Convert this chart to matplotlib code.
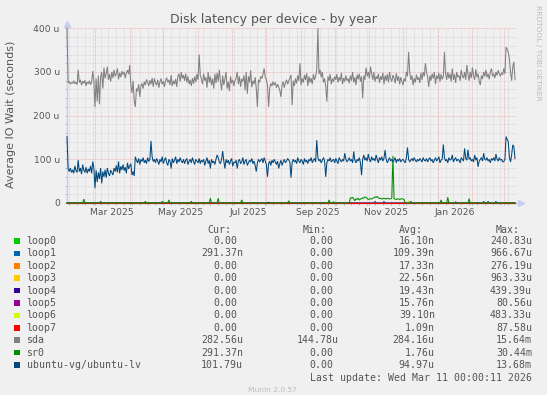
import numpy as np
import matplotlib
matplotlib.use('Agg')
import matplotlib.pyplot as plt
import pandas as pd
from matplotlib.patches import Rectangle

# ---------------- data ----------------
start = pd.Timestamp('2025-02-04')
end_label = 'Last update: Wed Mar 11 00:00:11 2026'

# daily values, microseconds (d = 0 .. 400)
sda = [
    400, 275, 278, 272, 276, 274, 280, 273, 277, 271,
    305, 276, 282, 270, 279, 274, 281, 268, 277, 273,
    280, 271, 276, 302, 280, 220, 285, 232, 292, 226,
    288, 300, 262, 310, 285, 296, 312, 282, 295, 278,
    300, 286, 305, 290, 296, 308, 283, 298, 288, 302,
    294, 300, 286, 298, 304, 295, 316, 270, 252, 280,
    235, 220, 262, 256, 272, 243, 268, 274, 262, 278,
    270, 283, 276, 268, 281, 272, 286, 266, 285, 275,
    270, 282, 264, 278, 285, 272, 279, 266, 280, 287,
    276, 282, 270, 293, 268, 280, 272, 284, 266, 290,
    296, 278, 300, 285, 293, 280, 296, 276, 290, 272,
    282, 268, 286, 273, 290, 277, 295, 282, 340, 292,
    285, 272, 296, 280, 288, 264, 300, 276, 290, 270,
    285, 262, 296, 274, 298, 278, 305, 280, 258, 292,
    270, 284, 300, 262, 278, 256, 290, 274, 282, 268,
    280, 286, 300, 272, 290, 266, 284, 278, 292, 258,
    300, 250, 290, 276, 304, 265, 280, 272, 288, 262,
    220, 282, 276, 290, 285, 295, 308, 288, 282, 270,
    220, 262, 274, 268, 278, 270, 276, 264, 272, 266,
    258, 243, 270, 278, 264, 275, 282, 272, 280, 286,
    293, 224, 280, 268, 285, 274, 292, 280, 320, 270,
    285, 276, 293, 282, 297, 268, 290, 276, 286, 272,
    295, 282, 290, 305, 400, 295, 305, 288, 300, 276,
    285, 268, 232, 290, 280, 295, 272, 285, 278, 290,
    282, 295, 276, 288, 280, 298, 272, 286, 278, 292,
    280, 285, 274, 292, 280, 300, 276, 288, 270, 294,
    283, 296, 278, 290, 240, 292, 282, 310, 290, 300,
    285, 312, 296, 282, 300, 278, 290, 284, 296, 275,
    290, 282, 298, 272, 292, 280, 295, 276, 300, 284,
    278, 293, 286, 274, 297, 280, 290, 272, 288, 279,
    270, 285, 278, 300, 290, 346, 300, 282, 292, 270,
    286, 276, 294, 282, 288, 275, 298, 282, 300, 290,
    320, 300, 288, 266, 292, 280, 296, 285, 300, 272,
    292, 284, 298, 278, 295, 283, 290, 346, 295, 282,
    300, 285, 296, 278, 308, 282, 295, 275, 300, 288,
    292, 280, 305, 290, 286, 300, 282, 316, 295, 280,
    300, 286, 310, 292, 282, 306, 288, 296, 280, 270,
    292, 284, 300, 290, 305, 288, 296, 283, 300, 308,
    290, 296, 286, 300, 292, 304, 296, 290, 298, 294,
    308, 296, 357, 352, 345, 330, 300, 280, 312, 323,
    283,
]

ubuntu_lv = [
    152, 79, 72, 80, 70, 76, 68, 85, 74, 70,
    98, 72, 80, 66, 88, 75, 70, 82, 68, 78,
    72, 85, 68, 95, 80, 34, 75, 48, 70, 55,
    80, 45, 72, 60, 76, 58, 80, 68, 62, 75,
    70, 64, 80, 72, 86, 70, 95, 68, 84, 76,
    88, 74, 82, 68, 92, 78, 85, 90, 64, 72,
    62, 106, 98, 92, 102, 88, 100, 95, 104, 92,
    98, 90, 104, 95, 100, 142, 106, 95, 100, 92,
    102, 96, 88, 100, 94, 106, 90, 98, 104, 92,
    86, 100, 96, 79, 102, 92, 98, 106, 90, 100,
    94, 104, 96, 92, 100, 90, 98, 102, 88, 96,
    100, 92, 104, 95, 88, 100, 96, 92, 102, 90,
    98, 94, 100, 86, 96, 104, 90, 98, 79, 100,
    92, 96, 88, 100, 110, 104, 94, 90, 100, 119,
    96, 79, 100, 92, 98, 88, 96, 102, 84, 94,
    92, 98, 79, 96, 100, 90, 94, 104, 88, 96,
    100, 86, 92, 98, 94, 102, 90, 96, 86, 72,
    92, 100, 94, 98, 102, 92, 104, 96, 88, 60,
    90, 96, 86, 98, 92, 100, 94, 88, 96, 79,
    90, 98, 86, 94, 100, 92, 96, 102, 98, 94,
    58, 92, 100, 94, 98, 90, 104, 96, 92, 100,
    96, 88, 102, 94, 98, 90, 100, 96, 104, 92,
    98, 102, 94, 144, 104, 96, 100, 92, 98, 104,
    96, 60, 92, 100, 96, 104, 94, 98, 100, 92,
    102, 96, 90, 104, 98, 94, 100, 96, 114, 100,
    94, 98, 104, 96, 100, 92, 118, 98, 92, 100,
    96, 104, 92, 64, 100, 110, 98, 104, 96, 112,
    100, 94, 106, 98, 102, 96, 110, 100, 92, 104,
    98, 106, 96, 102, 121, 100, 92, 98, 104, 96,
    100, 94, 98, 104, 92, 100, 96, 102, 94, 98,
    100, 96, 92, 104, 127, 100, 94, 98, 102, 96,
    104, 98, 94, 100, 96, 102, 98, 94, 104, 98,
    96, 102, 94, 100, 104, 96, 100, 92, 98, 104,
    96, 100, 106, 92, 98, 100, 134, 104, 96, 100,
    92, 104, 98, 100, 110, 94, 100, 104, 96, 100,
    98, 92, 104, 100, 96, 125, 102, 98, 122, 100,
    104, 96, 100, 94, 110, 98, 104, 83, 96, 100,
    104, 96, 114, 100, 98, 104, 96, 100, 92, 102,
    98, 104, 96, 112, 100, 96, 104, 98, 100, 94,
    95, 100, 152, 146, 140, 105, 94, 110, 133, 129,
    102,
]

sr0_level_start = 253
sr0_level = [12, 11, 13, 9, 5, 10, 8, 11, 7, 9, 10, 12, 11, 14, 13, 10, 8, 9, 10, 9,
             11, 12, 14, 13, 15, 12, 10, 11, 9, 10, 11, 10, 9, 11, 10, 9, 10, 11, 108, 10,
             9, 8, 10, 9, 8, 9, 10, 9, 8]
sr0_spike_days = [15, 30, 70, 85, 91, 111, 128, 135, 156, 198, 234, 238, 334, 340, 359]
sr0_spike_vals = [9, 4, 4, 4, 7, 4, 11, 11, 7, 5, 7, 3, 7, 13, 10]
loop1_spike_days = [275, 283, 307, 347, 372, 376, 383]
loop1_spike_vals = [4, 4, 4, 3, 4, 4, 4]
loop3_spike_days = [305]
loop3_spike_vals = [5]
loop4_spike_days = [180]
loop4_spike_vals = [2]

names = ['loop0', 'loop1', 'loop2', 'loop3', 'loop4', 'loop5', 'loop6', 'loop7',
         'sda', 'sr0', 'ubuntu-vg/ubuntu-lv']
colors = ['#00CC00', '#0066B3', '#FF8000', '#FFCC00', '#330099', '#990099', '#CCFF00',
          '#FF0000', '#808080', '#008F00', '#00487D']
cur_vals = ['0.00', '291.37n', '0.00', '0.00', '0.00', '0.00', '0.00', '0.00',
            '282.56u', '291.37n', '101.79u']
min_vals = ['0.00', '0.00', '0.00', '0.00', '0.00', '0.00', '0.00', '0.00',
            '144.78u', '0.00', '0.00']
avg_vals = ['16.10n', '109.39n', '17.33n', '22.56n', '19.43n', '15.76n', '39.10n', '1.09n',
            '284.16u', '1.76u', '94.97u']
max_vals = ['240.83u', '966.67u', '276.19u', '963.33u', '439.39u', '80.56u', '483.33u',
            '87.58u', '15.64m', '30.44m', '13.68m']

yticks = [0, 100, 200, 300, 400]
ytick_labels = ['0', '100 u', '200 u', '300 u', '400 u']
xlabel_months = ['2025-03', '2025-05', '2025-07', '2025-09', '2025-11', '2026-01']
xlabel_texts = ['Mar 2025', 'May 2025', 'Jul 2025', 'Sep 2025', 'Nov 2025', 'Jan 2026']

# ---------------- build series ----------------
n = len(sda)
days = np.arange(n)


def spikes(dlist, vlist):
    a = np.zeros(n)
    for d, v in zip(dlist, vlist):
        a[d] = v
    return a


sr0 = spikes(sr0_spike_days, sr0_spike_vals)
sr0[sr0_level_start:sr0_level_start + len(sr0_level)] = sr0_level
series = {
    'loop0': np.zeros(n),
    'loop1': spikes(loop1_spike_days, loop1_spike_vals),
    'loop2': np.zeros(n),
    'loop3': spikes(loop3_spike_days, loop3_spike_vals),
    'loop4': spikes(loop4_spike_days, loop4_spike_vals),
    'loop5': np.zeros(n),
    'loop6': np.zeros(n),
    'loop7': np.zeros(n),
    'sda': np.array(sda, float),
    'sr0': sr0,
    'ubuntu-vg/ubuntu-lv': np.array(ubuntu_lv, float),
}

# ---------------- figure ----------------
W, H = 547, 395
BG = '#F0F0F0'
fig = plt.figure(figsize=(W / 100, H / 100), dpi=100, facecolor=BG)


def fx(x):
    return x / W


def fy(y):
    return 1 - y / H


L, R, T, B = 67, 517, 28.3, 203
ax = fig.add_axes([fx(L), fy(B), (R - L) / W, (B - T) / H])
ax.set_facecolor(BG)
ax.set_xlim(0, (R - L) / 1.12)
ax.set_ylim(0, 400)
for s in ax.spines.values():
    s.set_visible(False)

dot = (0, (0.7, 0.8))
minor_col = '#D4D4D4'
major_col = '#F2AAAA'
# horizontal grid
for v in range(20, 401, 20):
    if v % 100 == 0:
        ax.axhline(v, color=major_col, lw=0.65, ls=dot, zorder=1)
    else:
        ax.axhline(v, color=minor_col, lw=0.65, ls=dot, zorder=0.5)
# vertical grid
month_starts = pd.date_range('2025-03-01', '2026-03-01', freq='MS')
week_lines = pd.date_range('2025-02-06', '2026-03-11', freq='7D')
mdays = [(m - start).days for m in month_starts]
wdays = [(w - start).days for w in week_lines]
for d in wdays:
    ax.axvline(d, color=minor_col, lw=0.65, ls=dot, zorder=0.5)
for d in mdays:
    ax.axvline(d, color=major_col, lw=0.65, ls=dot, zorder=1)

# axis lines and arrows
axis_col = '#C8CEF2'
ax.plot([0, 0], [0, 405], color=axis_col, lw=1.0, clip_on=False, zorder=2)
ax.plot([0, 403], [0, 0], color=axis_col, lw=1.0, clip_on=False, zorder=2)
ax.plot([0], [410], marker='^', ms=4.5, color=axis_col, clip_on=False, zorder=2)
ax.plot([405.5], [0], marker='>', ms=4.5, color=axis_col, clip_on=False, zorder=2)

# ticks
ax.set_xticks(mdays)
ax.set_xticks(wdays, minor=True)
ax.set_xticklabels([])
ax.set_yticks(yticks)
ax.set_yticks([v for v in range(20, 401, 20) if v % 100], minor=True)
ax.set_yticklabels(ytick_labels)
ax.tick_params(axis='both', which='both', length=1.6, width=0.6, color='#AAAAAA',
               direction='out')
ax.tick_params(axis='y', which='major', labelsize=6.6, labelcolor='#555555', pad=3.6)

for m, t in zip(xlabel_months, xlabel_texts):
    d = (pd.Timestamp(m + '-01') - start).days + 15
    ax.text(d, -0.053, t, transform=ax.get_xaxis_transform(), ha='center', va='center',
            fontsize=6.6, color='#555555')

# series
for name, col in zip(names, colors):
    ax.plot(days, series[name], color=col, lw=0.75, clip_on=False, zorder=3,
            solid_joinstyle='miter')

# texts
fig.text(fx(273.7), fy(20), 'Disk latency per device - by year', ha='center', va='center',
         fontsize=9.0, color='#555555')
fig.text(fx(10.7), fy(114), 'Average IO Wait (seconds)', rotation=90, ha='center',
         va='center', fontsize=8.0, color='#555555')
fig.text(fx(537.7), fy(53), 'RRDTOOL / TOBI OETIKER', rotation=270, ha='center', va='center',
         fontsize=5.4, color='#BBBBBB')

# legend table
mono = 'DejaVu Sans Mono'
fs = 7.1
cw = 5.94
tcol = '#555555'
hy = 229.8
col_right = [242.9, 339.0, 434.8, 532.0]
for hdr, r in zip(['Cur:', 'Min:', 'Avg:', 'Max:'], col_right):
    fig.text(fx(r - 2 * cw), fy(hy), hdr, ha='right', va='center', family=mono, fontsize=fs,
             color=tcol)
for i, name in enumerate(names):
    y = 241.0 + i * 12.4
    fig.patches.append(Rectangle((fx(14), fy(y + 2.8)), 5.6 / W, 5.6 / H,
                                 transform=fig.transFigure, facecolor=colors[i],
                                 edgecolor='none'))
    fig.text(fx(26.5), fy(y), name, ha='left', va='center', family=mono, fontsize=fs,
             color=tcol)
    for vals, r in zip([cur_vals, min_vals, avg_vals, max_vals], col_right):
        s = vals[i]
        xr = r if s[-1] in 'numk' else r - cw
        fig.text(fx(xr), fy(y), s, ha='right', va='center', family=mono, fontsize=fs,
                 color=tcol)
fig.text(fx(532), fy(377.6), end_label, ha='right', va='center', family=mono, fontsize=fs,
         color=tcol)
fig.text(fx(272.5), fy(390.5), 'Munin 2.0.57', ha='center', va='center', fontsize=5.4,
         color='#BBBBBB')

fig.savefig('out.png', dpi=100, facecolor=BG)
